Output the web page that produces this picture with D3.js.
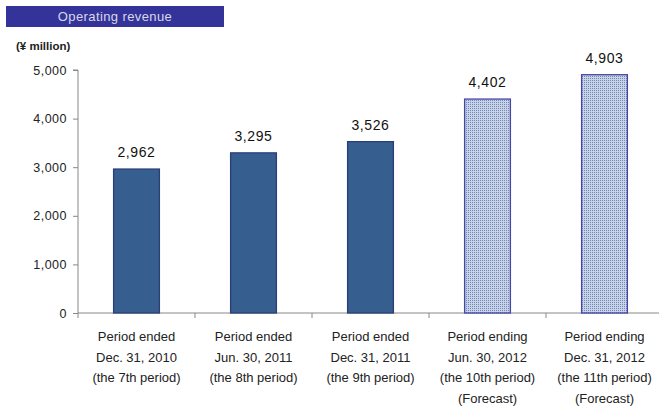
<!DOCTYPE html>
<html>
<head>
<meta charset="utf-8">
<script src="https://cdn.jsdelivr.net/npm/d3@7"></script>
<style>
  body { margin: 0; background: #fff; }
  text { font-family: "Liberation Sans", Arial, sans-serif; }
</style>
</head>
<body>
<svg width="659" height="407"></svg>
<script>
var periods = [
  ["Period ended", "Dec. 31, 2010", "(the 7th period)"],
  ["Period ended", "Jun. 30, 2011", "(the 8th period)"],
  ["Period ended", "Dec. 31, 2011", "(the 9th period)"],
  ["Period ending", "Jun. 30, 2012", "(the 10th period)", "(Forecast)"],
  ["Period ending", "Dec. 31, 2012", "(the 11th period)", "(Forecast)"]
];
var revenue = [2962, 3295, 3526, 4402, 4903];
var forecast = [false, false, false, true, true];
var yTicks = [0, 1000, 2000, 3000, 4000, 5000];

var svg = d3.select("svg");

var x = d3.scaleBand()
    .domain(d3.range(periods.length))
    .range([78, 663])
    .paddingInner(0.6)
    .paddingOuter(0.3);

var y = d3.scaleLinear().domain([0, 5000]).range([313, 70]);

// dotted fill for forecast bars
var pat = svg.append("defs").append("pattern")
    .attr("id", "dots")
    .attr("width", 2).attr("height", 2)
    .attr("patternUnits", "userSpaceOnUse");
pat.append("rect").attr("width", 2).attr("height", 2).attr("fill", "#c9d3e8");
pat.append("rect").attr("width", 1).attr("height", 1).attr("fill", "#7088b8");

// title box
svg.append("rect")
    .attr("x", 6).attr("y", 6).attr("width", 218).attr("height", 21)
    .attr("fill", "#333399");
svg.append("text")
    .attr("x", 115).attr("y", 21)
    .attr("text-anchor", "middle")
    .attr("font-size", 13)
    .attr("letter-spacing", 0.4)
    .attr("fill", "#d8d8e8")
    .text("Operating revenue");

svg.append("text")
    .attr("x", 16).attr("y", 50)
    .attr("font-size", 11.5)
    .attr("font-weight", "bold")
    .attr("fill", "#222")
    .text("(¥ million)");

// y axis
var yAxis = svg.append("g")
    .attr("transform", "translate(78,0)")
    .call(d3.axisLeft(y).tickValues(yTicks).tickSize(5).tickPadding(6).tickFormat(d3.format(",")));
yAxis.select(".domain").attr("stroke", "#888").attr("d", "M-5," + y(5000) + "H0V" + y(0));
yAxis.selectAll(".tick line").attr("stroke", "#888");
yAxis.selectAll("text")
    .attr("font-size", 12.5)
    .attr("letter-spacing", 0.5)
    .attr("font-family", "Liberation Sans, Arial, sans-serif")
    .attr("fill", "#222");

// x axis line and band ticks
var step = x.step();
var xEdges = d3.range(periods.length + 1).map(function(i) { return 78 + i * step; });
svg.append("line")
    .attr("x1", 78).attr("x2", 659)
    .attr("y1", y(0)).attr("y2", y(0))
    .attr("stroke", "#888");
svg.selectAll(".xtick")
    .data(xEdges)
    .enter().append("line")
    .attr("class", "xtick")
    .attr("x1", function(d) { return d; }).attr("x2", function(d) { return d; })
    .attr("y1", y(0)).attr("y2", y(0) + 5)
    .attr("stroke", "#888");

// bars
svg.selectAll(".bar")
    .data(revenue)
    .enter().append("rect")
    .attr("class", "bar")
    .attr("x", function(d, i) { return x(i) + 0.5; })
    .attr("y", function(d) { return y(d); })
    .attr("width", x.bandwidth() - 1)
    .attr("height", function(d) { return y(0) - y(d); })
    .attr("fill", function(d, i) { return forecast[i] ? "url(#dots)" : "#365f8f"; })
    .attr("stroke", function(d, i) { return forecast[i] ? "#4545a5" : "#2a3f7a"; })
    .attr("stroke-width", 1.3);

// value labels
svg.selectAll(".val")
    .data(revenue)
    .enter().append("text")
    .attr("class", "val")
    .attr("x", function(d, i) { return x(i) + x.bandwidth() / 2; })
    .attr("y", function(d) { return y(d) - 12; })
    .attr("text-anchor", "middle")
    .attr("font-size", 14)
    .attr("letter-spacing", 0.6)
    .attr("fill", "#111")
    .text(d3.format(","));

// category labels
var cat = svg.selectAll(".cat")
    .data(periods)
    .enter().append("text")
    .attr("class", "cat")
    .attr("text-anchor", "middle")
    .attr("font-size", 13)
    .attr("fill", "#222");
cat.selectAll("tspan")
    .data(function(d, i) { return d.map(function(s) { return {s: s, i: i}; }); })
    .enter().append("tspan")
    .attr("x", function(d) { return x(d.i) + x.bandwidth() / 2; })
    .attr("y", function(d, j) { return 341 + j * 20.5; })
    .text(function(d) { return d.s; });
</script>
</body>
</html>
